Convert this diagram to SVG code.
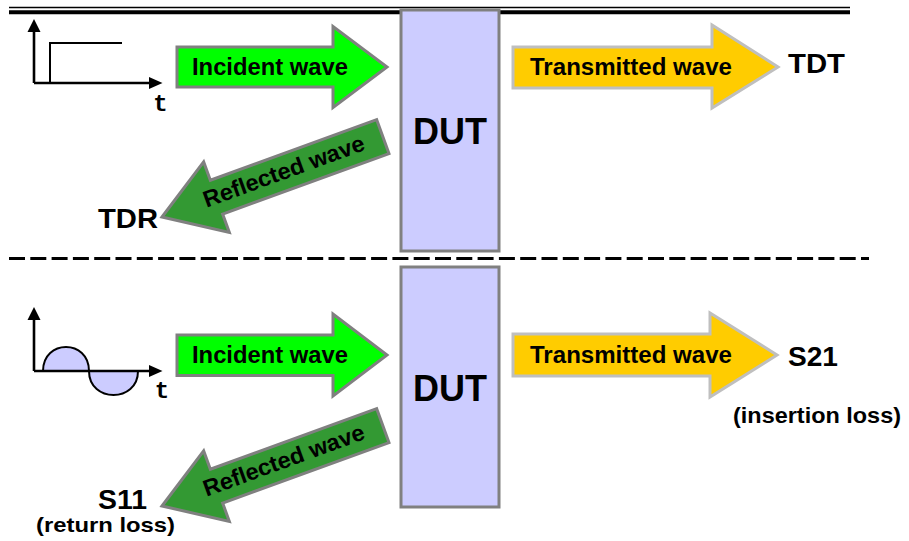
<svg xmlns="http://www.w3.org/2000/svg" width="909" height="541" viewBox="0 0 909 541">
<style>
.lbl{font-family:"Liberation Sans",Arial,sans-serif;font-weight:bold;fill:#000}
.wav{font-size:23px}
.big{font-size:28px}
.dut{font-size:36px}
.tt{font-family:"Liberation Mono","Courier New",monospace;font-size:24px;font-weight:bold;fill:#000}
.inc{fill:#00FF00;stroke:#808080;stroke-width:3;stroke-linejoin:miter}
.ref{fill:#339933;stroke:#808080;stroke-width:3}
.tra{fill:#FFCC00;stroke:#BFBFBF;stroke-width:3}
.box{fill:#CCCCFF;stroke:#808080;stroke-width:3}
.ax{stroke:#000;stroke-width:2.6;fill:none}
</style>
<defs>
<path id="refArrow" d="M0,0 L58,-37.5 L58,-18 L235,-18 L235,18 L58,18 L58,37.5 Z"/>
</defs>
<g id="separators">
<line x1="9" y1="7.5" x2="850" y2="7.5" stroke="#000" stroke-width="1.5"/>
<line x1="9" y1="12.2" x2="850" y2="12.2" stroke="#000" stroke-width="4"/>
<line x1="9" y1="258.5" x2="869" y2="258.5" stroke="#000" stroke-width="3" stroke-dasharray="16 5.3"/>
</g>
<g id="step-graph">
<polyline class="ax" points="34,83 34,30"/>
<polygon points="34,19 27.5,32 40.5,32" fill="#000"/>
<polyline class="ax" points="34,83 151,83"/>
<polygon points="162.5,83 149,77 149,89" fill="#000"/>
<polyline points="50,83 50,43 122,43" fill="none" stroke="#000" stroke-width="2"/>
<text class="tt" x="160.5" y="111" text-anchor="middle">t</text>
</g>
<g id="sine-graph">
<path d="M43,371 C43,339 89,339 89,371 Z" fill="#CCCCFF" stroke="none"/>
<path d="M89,371 C89,403 138,403 138,371 Z" fill="#CCCCFF" stroke="none"/>
<path d="M43,371 C43,339 89,339 89,371 C89,403 138,403 138,371" fill="none" stroke="#000" stroke-width="2"/>
<polyline class="ax" points="34,371 34,318"/>
<polygon points="34,307 27.5,320 40.5,320" fill="#000"/>
<polyline class="ax" points="34,371 151,371"/>
<polygon points="162.5,371 149,365 149,377" fill="#000"/>
<text class="tt" x="162" y="398" text-anchor="middle">t</text>
</g>
<g id="dut-top">
<rect class="box" x="401" y="10" width="98" height="241"/>
<text class="lbl dut" x="450" y="144" text-anchor="middle">DUT</text>
</g>
<g id="dut-bottom">
<rect class="box" x="401" y="267" width="98" height="240"/>
<text class="lbl dut" x="450" y="401" text-anchor="middle">DUT</text>
</g>
<g id="connectors">
<g id="incident-top">
<path class="inc" d="M177,47 L333,47 L333,26.5 L387,67 L333,107.5 L333,87 L177,87 Z"/>
<text class="lbl wav" x="270" y="75" text-anchor="middle" textLength="156" lengthAdjust="spacingAndGlyphs">Incident wave</text>
</g>
<g id="transmitted-top">
<path class="tra" d="M513,47 L712,47 L712,25 L778,67 L712,108 L712,88 L513,88 Z"/>
<text class="lbl wav" x="631" y="75" text-anchor="middle" textLength="202" lengthAdjust="spacingAndGlyphs">Transmitted wave</text>
</g>
<g id="reflected-top" transform="translate(162,217) rotate(-20)">
<use href="#refArrow" class="ref"/>
<text class="lbl wav" x="130" y="6.5" text-anchor="middle" textLength="170" lengthAdjust="spacingAndGlyphs">Reflected wave</text>
</g>
<g id="incident-bottom">
<path class="inc" d="M177,335 L333,335 L333,314 L387,355 L333,396 L333,375.5 L177,375.5 Z"/>
<text class="lbl wav" x="270" y="363" text-anchor="middle" textLength="156" lengthAdjust="spacingAndGlyphs">Incident wave</text>
</g>
<g id="transmitted-bottom">
<path class="tra" d="M513,334 L710,334 L710,313 L777,355 L710,397 L710,376 L513,376 Z"/>
<text class="lbl wav" x="631" y="363" text-anchor="middle" textLength="202" lengthAdjust="spacingAndGlyphs">Transmitted wave</text>
</g>
<g id="reflected-bottom" transform="translate(162,506) rotate(-20)">
<use href="#refArrow" class="ref"/>
<text class="lbl wav" x="130" y="6.5" text-anchor="middle" textLength="170" lengthAdjust="spacingAndGlyphs">Reflected wave</text>
</g>
</g>
<g id="labels">
<text class="lbl big" x="788" y="73" textLength="57" lengthAdjust="spacingAndGlyphs">TDT</text>
<text class="lbl big" x="158" y="228" text-anchor="end" textLength="60" lengthAdjust="spacingAndGlyphs">TDR</text>
<text class="lbl big" x="788" y="366" textLength="50" lengthAdjust="spacingAndGlyphs">S21</text>
<text class="lbl" x="817" y="423" font-size="22" text-anchor="middle" textLength="168" lengthAdjust="spacingAndGlyphs">(insertion loss)</text>
<text class="lbl big" x="147" y="509" text-anchor="end" textLength="49" lengthAdjust="spacingAndGlyphs">S11</text>
<text class="lbl" x="105.5" y="532" font-size="21" text-anchor="middle" textLength="139" lengthAdjust="spacingAndGlyphs">(return loss)</text>
</g>
</svg>
